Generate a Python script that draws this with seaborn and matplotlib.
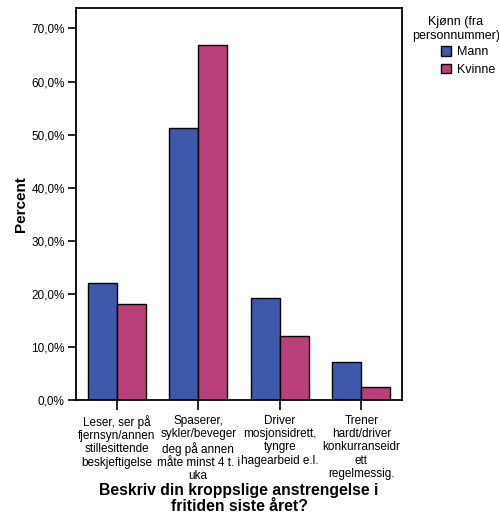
import matplotlib
matplotlib.use("Agg")
import matplotlib.pyplot as plt
import numpy as np
import pandas as pd
import seaborn as sns
from matplotlib.ticker import FuncFormatter

categories = [
    "Leser, ser på\nfjernsyn/annen\nstillesittende\nbeskjeftigelse",
    "Spaserer,\nsykler/beveger\ndeg på annen\nmåte minst 4 t. i\nuka",
    "Driver\nmosjonsidrett,\ntyngre\nhagearbeid e.l.",
    "Trener\nhardt/driver\nkonkurranseidr\nett\nregelmessig.",
]
mann = [22.1, 51.2, 19.2, 7.2]
kvinne = [18.2, 66.8, 12.0, 2.5]
groups = ["Mann", "Kvinne"]
colors = ["#3e58ac", "#b9407a"]

df = pd.DataFrame({
    "kategori": categories * 2,
    "kjonn": [groups[0]] * 4 + [groups[1]] * 4,
    "prosent": mann + kvinne,
})

sns.set_style("white")
plt.rcParams["font.family"] = ["Liberation Sans", "DejaVu Sans"]
plt.rcParams["text.color"] = "black"
plt.rcParams["axes.labelcolor"] = "black"
plt.rcParams["xtick.color"] = "black"
plt.rcParams["ytick.color"] = "black"

W, H = 499, 515
fig = plt.figure(figsize=(W / 100, H / 100), dpi=100)
ax = fig.add_axes([0.152, 0.223, 0.654, 0.761])

sns.barplot(data=df, x="kategori", y="prosent", hue="kjonn", palette=colors,
            saturation=1, width=0.71, edgecolor="black", linewidth=1.0,
            ax=ax, legend=True)

ax.set_xlim(-0.5, 3.5)
ax.set_ylim(0, 73.8)
ax.set_yticks(np.arange(0, 71, 10))
ax.yaxis.set_major_formatter(FuncFormatter(lambda v, p: f"{v:.1f}%".replace(".", ",")))
ax.tick_params(axis="y", direction="out", length=6, width=1.2, labelsize=8.5, left=True, pad=2)
ax.tick_params(axis="x", direction="out", length=7.5, width=1.2, labelsize=8.5, bottom=True, pad=3)
for lab in ax.get_xticklabels():
    lab.set_linespacing(1.15)
for s in ax.spines.values():
    s.set_linewidth(1.3)
    s.set_color("black")

ax.set_ylabel("Percent", fontsize=11, fontweight="bold", labelpad=2)
ax.set_xlabel("Beskriv din kroppslige anstrengelse i\nfritiden siste året?",
              fontsize=11.3, fontweight="bold", linespacing=1.08)
ax_h = 0.761 * H
ax.xaxis.set_label_coords(0.5, -(483 - 400) / ax_h)

# legend: title as separate text, entries shifted right like the reference
fig.text(456 / W, 1 - 16 / H, "Kjønn (fra\npersonnummer)", ha="center", va="top",
         fontsize=9, linespacing=1.25, multialignment="center")
leg = ax.legend(loc="upper left", bbox_to_anchor=(441 / W, 1 - 46 / H),
                bbox_transform=fig.transFigure, frameon=False, fontsize=9,
                handlelength=0.8, handleheight=0.8, handletextpad=0.5,
                labelspacing=0.45, borderaxespad=0, borderpad=0)
for h in leg.legend_handles:
    h.set_edgecolor("black")
    h.set_linewidth(1.0)

fig.savefig("out.png", dpi=100)
